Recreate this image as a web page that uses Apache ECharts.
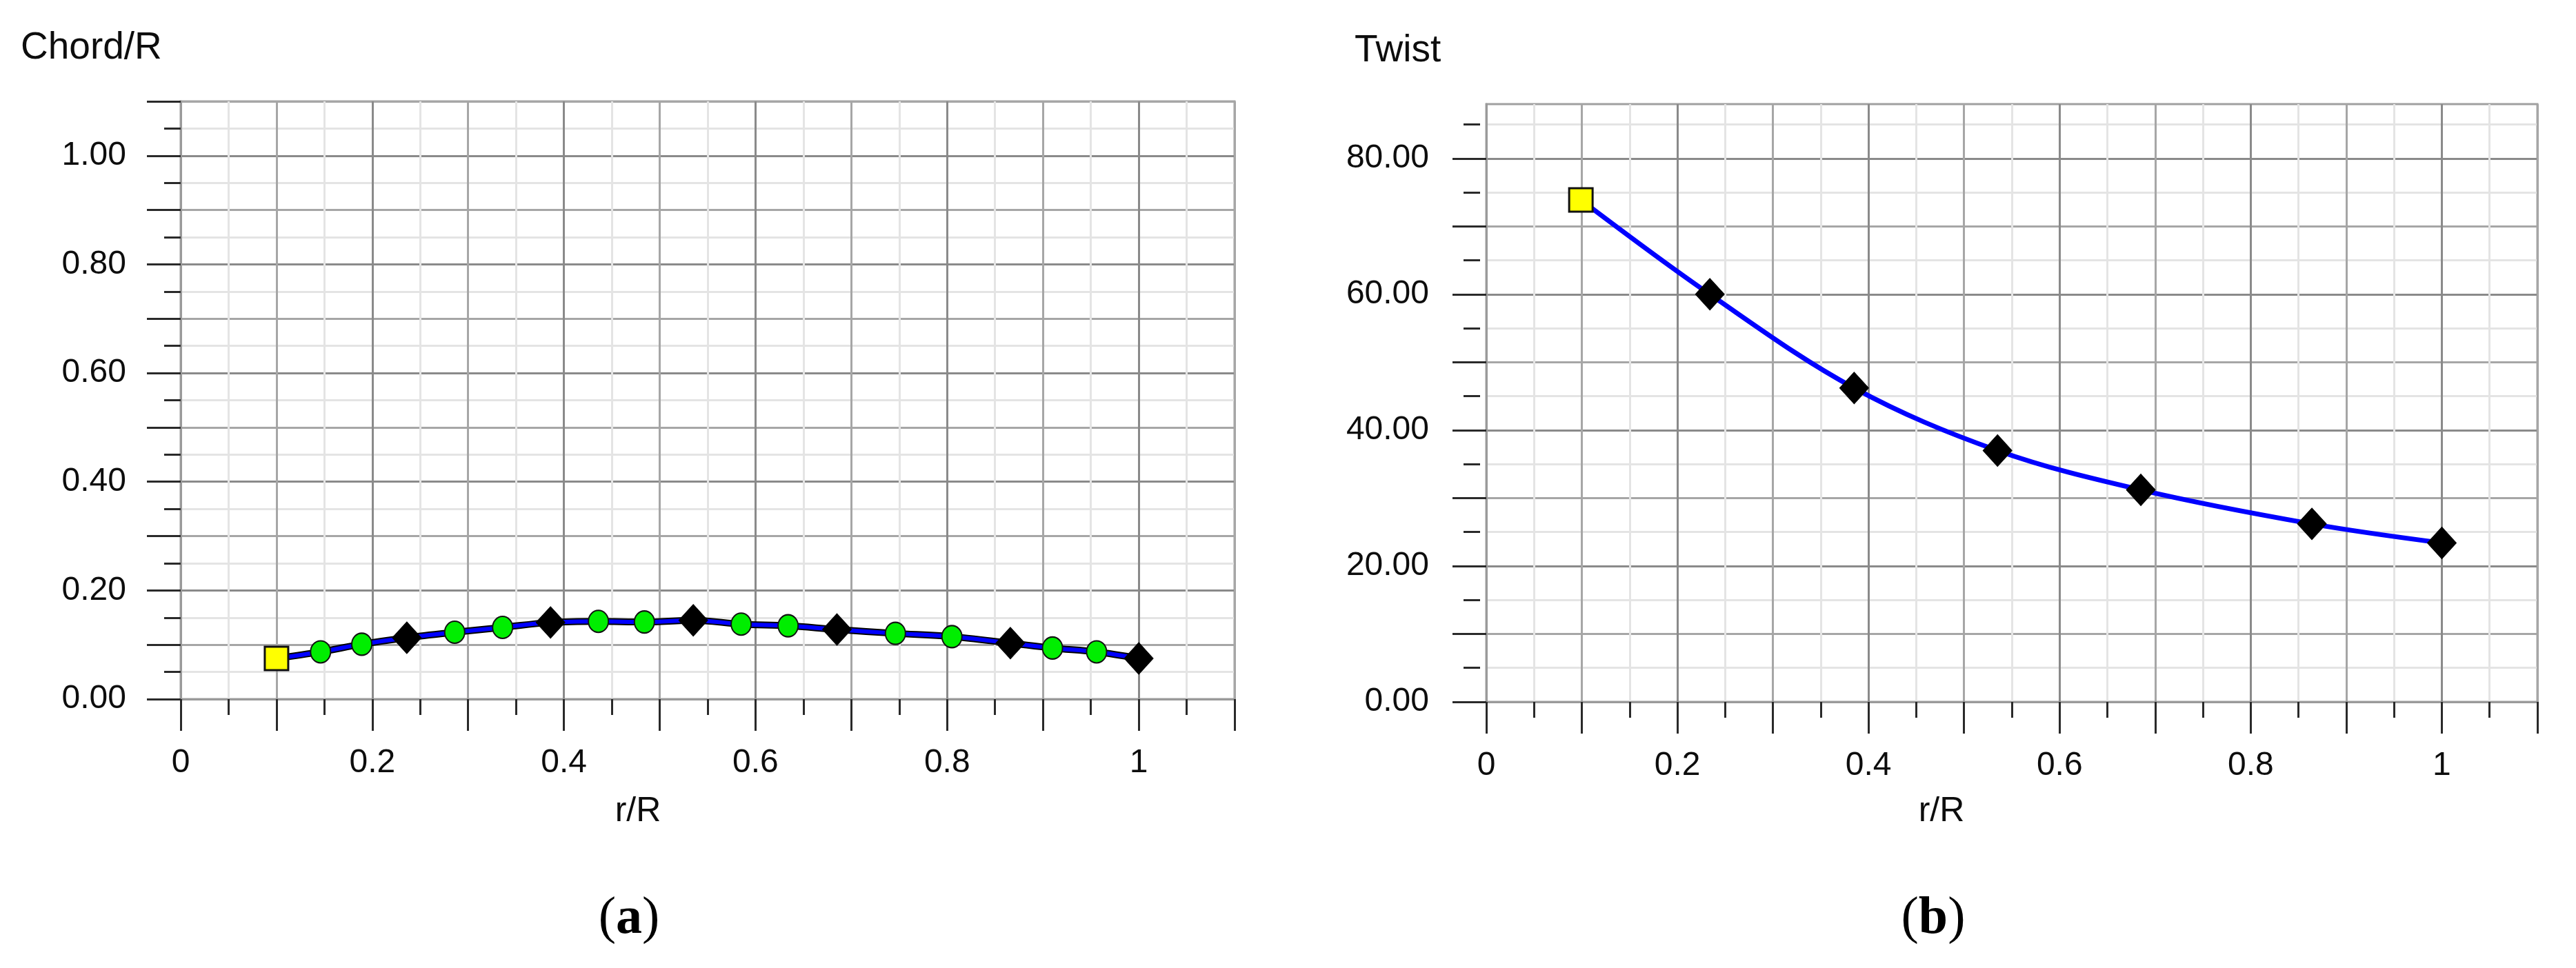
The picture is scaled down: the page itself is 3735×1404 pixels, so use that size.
<!DOCTYPE html>
<html><head><meta charset="utf-8">
<script src="https://cdn.jsdelivr.net/npm/echarts@6/dist/echarts.min.js"></script>
<style>html,body{margin:0;padding:0;background:#fff}#c{width:3735px;height:1404px}</style>
</head><body><div id="c"></div>
<script>
// ---- data ----
const chordRoot = [[0.100, 0.075]];
const chordStations = [[0.236, 0.113], [0.386, 0.141], [0.535, 0.145], [0.685, 0.128], [0.866, 0.103], [1.000, 0.075]];
const chordInterp = [[0.146, 0.087], [0.189, 0.101], [0.286, 0.123], [0.336, 0.132], [0.436, 0.143], [0.484, 0.142],
                     [0.585, 0.138], [0.634, 0.135], [0.746, 0.121], [0.805, 0.115], [0.910, 0.094], [0.956, 0.087]];
const twistRoot = [[0.099, 73.9]];
const twistStations = [[0.234, 60.0], [0.385, 46.2], [0.535, 37.0], [0.685, 31.2], [0.864, 26.2], [1.000, 23.4]];

const xTickLabels = [0, 0.2, 0.4, 0.6, 0.8, 1];
const chordTickLabels = [0, 0.2, 0.4, 0.6, 0.8, 1.0];
const twistTickLabels = [0, 20, 40, 60, 80];
const twistMajorTicks = [0, 10, 20, 30, 40, 50, 60, 70, 80];
const twistMinorTicks = [5, 15, 25, 35, 45, 55, 65, 75, 85];

// ---- styling ----
const FONT = "'Liberation Sans', Arial, sans-serif";
const SERIF = "'Liberation Serif', 'Times New Roman', serif";
const TXT = '#0d0d0d';
const MAJ = ['#8a8a8a', '#a6a6a6'];
const MIN = '#e4e4e4';
const TICK = {color: '#2a2a2a', width: 3};
const AXLINE = {color: '#9a9a9a', width: 3};

const chordLine = chordRoot.concat(chordInterp, chordStations).sort((a, b) => a[0] - b[0]);
const twistLine = twistRoot.concat(twistStations).sort((a, b) => a[0] - b[0]);

function makeX(gi) {
  return {
    type: 'value', gridIndex: gi, min: 0, max: 1.1, interval: 0.1, offset: 7,
    axisLine: {show: true, lineStyle: AXLINE},
    axisTick: {show: true, length: 46, lineStyle: TICK},
    minorTick: {show: true, splitNumber: 2, length: 23, lineStyle: TICK},
    splitLine: {show: true, lineStyle: {color: MAJ, width: 3}},
    minorSplitLine: {show: true, lineStyle: {color: MIN, width: 3}},
    axisLabel: {customValues: xTickLabels, margin: 62, fontSize: 48, color: TXT, fontFamily: FONT,
                formatter: v => String(Math.round(v * 10) / 10)}
  };
}

const option = {
  animation: false,
  backgroundColor: '#fff',
  grid: [
    {left: 262, top: 147, width: 1528, height: 867, show: true, borderColor: '#a0a0a0', borderWidth: 3, backgroundColor: '#fff'},
    {left: 2155, top: 151, width: 1524, height: 867, show: true, borderColor: '#a0a0a0', borderWidth: 3, backgroundColor: '#fff'}
  ],
  xAxis: [makeX(0), makeX(1)],
  yAxis: [
    {
      type: 'value', gridIndex: 0, min: 0, max: 1.1, interval: 0.1, offset: 8,
      axisLine: {show: true, lineStyle: AXLINE},
      axisTick: {show: true, length: 49, lineStyle: TICK},
      minorTick: {show: true, splitNumber: 2, length: 24, lineStyle: TICK},
      splitLine: {show: true, lineStyle: {color: MAJ, width: 3}},
      minorSplitLine: {show: true, lineStyle: {color: MIN, width: 3}},
      axisLabel: {customValues: chordTickLabels, margin: 71, fontSize: 48, color: TXT, fontFamily: FONT,
                  formatter: v => v.toFixed(2)}
    },
    {
      type: 'value', gridIndex: 1, position: 'left', offset: 9, min: 0, max: 88, interval: 10,
      axisLine: {show: true, lineStyle: AXLINE},
      axisTick: {show: true, length: 49, lineStyle: TICK, customValues: twistMajorTicks},
      splitLine: {show: true, lineStyle: {color: MAJ, width: 3}},
      axisLabel: {customValues: twistTickLabels, margin: 74, fontSize: 48, color: TXT, fontFamily: FONT,
                  formatter: v => v.toFixed(2)}
    },
    {
      type: 'value', gridIndex: 1, position: 'left', offset: 9, min: 0, max: 88, interval: 5,
      axisLine: {show: false},
      axisTick: {show: true, length: 24, lineStyle: TICK, customValues: twistMinorTicks},
      splitLine: {show: true, lineStyle: {color: MIN, width: 3}},
      axisLabel: {show: false}
    }
  ],
  series: [
    {type: 'line', xAxisIndex: 0, yAxisIndex: 0, data: chordLine, smooth: 0.35, symbol: 'none',
     lineStyle: {color: '#000', width: 10}, z: 3},
    {type: 'line', xAxisIndex: 0, yAxisIndex: 0, data: chordLine, smooth: 0.35, symbol: 'none',
     lineStyle: {color: '#0000ff', width: 6}, z: 4},
    {type: 'scatter', xAxisIndex: 0, yAxisIndex: 0, data: chordInterp, symbol: 'circle', symbolSize: [29, 32],
     itemStyle: {color: '#00ee00', borderColor: '#111', borderWidth: 2, opacity: 1}, z: 5},
    {type: 'scatter', xAxisIndex: 0, yAxisIndex: 0, data: chordStations, symbol: 'diamond', symbolSize: [42, 46],
     itemStyle: {color: '#000', borderColor: '#000', borderWidth: 1, opacity: 1}, z: 5},
    {type: 'scatter', xAxisIndex: 0, yAxisIndex: 0, data: chordRoot, symbol: 'rect', symbolSize: [34, 34],
     itemStyle: {color: '#ffff00', borderColor: '#111', borderWidth: 3, opacity: 1}, z: 6},

    {type: 'line', xAxisIndex: 1, yAxisIndex: 1, data: twistLine, smooth: 0.35, symbol: 'none',
     lineStyle: {color: '#0000ff', width: 7}, z: 4},
    {type: 'scatter', xAxisIndex: 1, yAxisIndex: 1, data: twistStations, symbol: 'diamond', symbolSize: [42, 46],
     itemStyle: {color: '#000', borderColor: '#000', borderWidth: 1, opacity: 1}, z: 5},
    {type: 'scatter', xAxisIndex: 1, yAxisIndex: 1, data: twistRoot, symbol: 'rect', symbolSize: [34, 34],
     itemStyle: {color: '#ffff00', borderColor: '#111', borderWidth: 3, opacity: 1}, z: 6}
  ],
  graphic: [
    {type: 'text', left: 30, top: 42, style: {text: 'Chord/R', font: `55px ${FONT}`, fill: TXT}},
    {type: 'text', left: 1964, top: 46, style: {text: 'Twist', font: `55px ${FONT}`, fill: TXT}},
    {type: 'text', x: 925, y: 1177, style: {text: 'r/R', font: `50px ${FONT}`, fill: TXT, align: 'center', verticalAlign: 'middle'}},
    {type: 'text', x: 2815, y: 1177, style: {text: 'r/R', font: `50px ${FONT}`, fill: TXT, align: 'center', verticalAlign: 'middle'}},
    {type: 'text', x: 912, y: 1333, style: {text: '{p|(}{b|a}{p|)}', align: 'center', verticalAlign: 'middle',
      rich: {p: {fontFamily: SERIF, fontSize: 76, color: '#000'},
             b: {fontFamily: SERIF, fontSize: 76, fontWeight: 'bold', color: '#000'}}}},
    {type: 'text', x: 2803, y: 1333, style: {text: '{p|(}{b|b}{p|)}', align: 'center', verticalAlign: 'middle',
      rich: {p: {fontFamily: SERIF, fontSize: 76, color: '#000'},
             b: {fontFamily: SERIF, fontSize: 76, fontWeight: 'bold', color: '#000'}}}}
  ]
};

const chart = echarts.init(document.getElementById('c'), null, {renderer: 'canvas'});
chart.setOption(option);
</script>
</body></html>
